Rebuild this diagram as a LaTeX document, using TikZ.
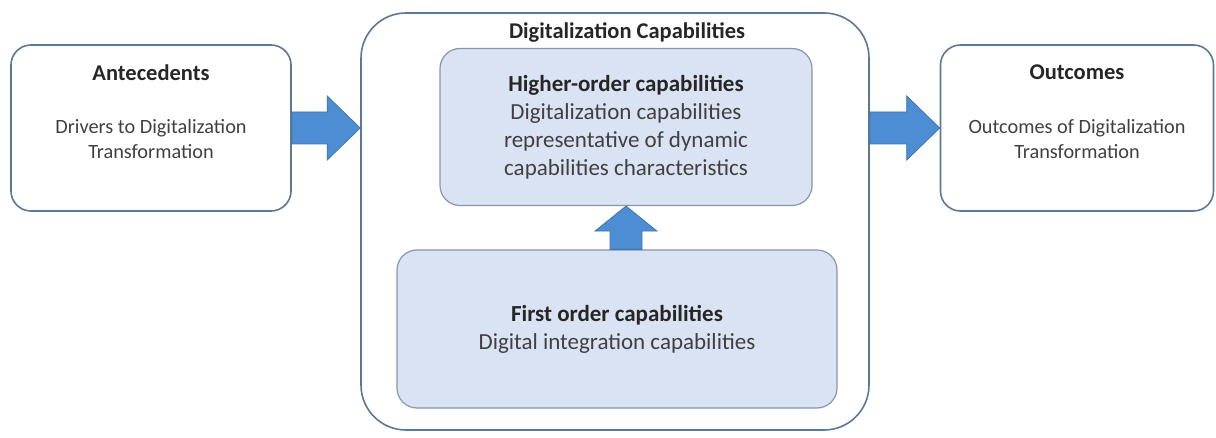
\documentclass[tikz,border=0pt]{standalone}
\usepackage{fontspec}
\setmainfont{Carlito}
\usepackage{tikz}
\usetikzlibrary{calc,positioning}

\definecolor{edgegray}{HTML}{5B7895}
\definecolor{lightblue}{HTML}{DAE3F3}
\definecolor{inneredge}{HTML}{8797AA}
\definecolor{arrowblue}{HTML}{4D8DD3}
\definecolor{arrowedge}{HTML}{4274AA}
\definecolor{bodytext}{HTML}{404040}

\begin{document}
\begin{tikzpicture}[x=1pt, y=-1pt,
	sidebox/.style={draw=edgegray, line width=1.6pt, rounded corners=20pt, fill=white,
		minimum width=280pt, minimum height=166pt, inner sep=0pt},
	bigbox/.style={draw=edgegray, line width=1.6pt, rounded corners=45pt, fill=white,
		minimum width=508pt, minimum height=417pt, inner sep=0pt},
	capbox/.style={draw=inneredge, line width=1.2pt, rounded corners=20pt, fill=lightblue,
		inner sep=0pt, align=center, text=bodytext, font=\fontsize{23}{28}\selectfont},
	headtxt/.style={font=\fontsize{22.5}{26}\selectfont\bfseries, text=black!85},
	bodytxt/.style={align=center, text=bodytext, font=\fontsize{20.3}{24.5}\selectfont},
	fatarrow/.style args={#1/#2/#3}{fill=arrowblue, draw=arrowedge, line width=0.8pt,
		to path={($(\tikztostart)!#1!90:(\tikztotarget)$)
			-- ($(\tikztotarget)!#3!(\tikztostart)!#1!-90:(\tikztostart)$)
			-- ($(\tikztotarget)!#3!(\tikztostart)!#2!-90:(\tikztostart)$)
			-- (\tikztotarget)
			-- ($(\tikztotarget)!#3!(\tikztostart)!#2!90:(\tikztostart)$)
			-- ($(\tikztotarget)!#3!(\tikztostart)!#1!90:(\tikztostart)$)
			-- ($(\tikztostart)!#1!-90:(\tikztotarget)$) -- cycle}}]
	\useasboundingbox (0,0) rectangle (1216,438);

	% Boxes {ante, caps, outc}
	\node [sidebox] (ante) at (151,128)  {};
	\node [bigbox]  (caps) at (615,221.5) {};
	\node [sidebox, minimum width=273pt] (outc) at (1077,128) {};

	\node [headtxt] (antehead) at ([yshift=-28pt]ante.north) {Antecedents};
	\node [bodytxt] (antebody) at ([yshift=-95pt]ante.north) {Drivers to Digitalization\\Transformation};
	\node [headtxt] (outchead) at ([yshift=-28pt]outc.north) {Outcomes};
	\node [bodytxt] (outcbody) at ([yshift=-95pt]outc.north) {Outcomes of Digitalization\\Transformation};
	\node [headtxt] (capshead) at (627,32) {Digitalization Capabilities};

	% Capabilities {high, first}
	\node [capbox, minimum width=372pt, minimum height=157pt] (high) at (626,127)
		{\textbf{\color{black!85}Higher-order capabilities}\\Digitalization capabilities\\representative of dynamic\\capabilities characteristics};
	\node [capbox, minimum width=440pt, minimum height=158pt] (first) at (617,329)
		{\textbf{\color{black!85}First order capabilities}\\Digital integration capabilities};

	% Arrows
	\path [fatarrow=16pt/32pt/33pt] (ante.east) to (caps.west |- ante.east);
	\path [fatarrow=16pt/32pt/33pt] (caps.east |- outc.west) to (outc.west);
	\path [fatarrow=16pt/31pt/25pt] (first.north -| high.south) to (high.south);
\end{tikzpicture}
\end{document}
